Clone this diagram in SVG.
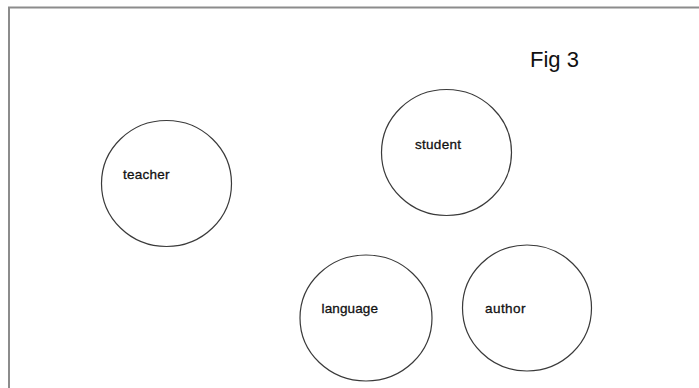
<svg xmlns="http://www.w3.org/2000/svg" width="699" height="388" viewBox="0 0 699 388">
<style>
.frame{fill:none;stroke:#8c8c8c;stroke-width:2}
.node ellipse{fill:#fff;stroke:#3a3a3a;stroke-width:1.2}
.node text{font-family:"Liberation Sans",Arial,sans-serif;font-size:13.5px;fill:#111;stroke:#111;stroke-width:0.3}
.title{font-family:"Liberation Sans",Arial,sans-serif;font-size:22px;fill:#111}
</style>
<rect width="699" height="388" fill="#fff"/>
<path class="frame" d="M9 388 V7.5 H699"/>
<text class="title" x="530" y="67">Fig 3</text>
<g id="connectors"></g>
<g id="teacher" class="node"><ellipse cx="166.5" cy="183.5" rx="65" ry="63"/><text x="123" y="178.5" textLength="46.5">teacher</text></g>
<g id="student" class="node"><ellipse cx="446.5" cy="152.5" rx="65" ry="63"/><text x="415" y="148.5" textLength="46">student</text></g>
<g id="language" class="node"><ellipse cx="366" cy="318" rx="66" ry="63"/><text x="321.5" y="313" textLength="56.5">language</text></g>
<g id="author" class="node"><ellipse cx="527" cy="308" rx="64.5" ry="63"/><text x="485" y="312.5" textLength="40.5">author</text></g>
</svg>
